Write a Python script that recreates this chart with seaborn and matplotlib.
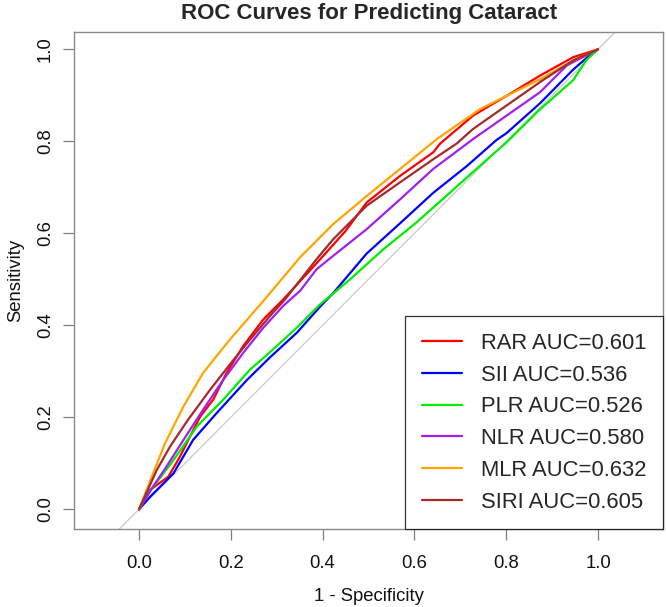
import matplotlib
matplotlib.use("Agg")
import matplotlib.pyplot as plt
from matplotlib import font_manager
import seaborn as sns
import pandas as pd

# ---------------- data ----------------
names = ["RAR", "SII", "PLR", "NLR", "MLR", "SIRI"]
aucs = ["0.601", "0.536", "0.526", "0.580", "0.632", "0.605"]
colors = ["#FF0000", "#0000FF", "#00EE00", "#A020F0", "#FFA500", "#A52A2A"]

rar_x = [0, 0.024, 0.064, 0.089, 0.111, 0.133, 0.162, 0.191, 0.227, 0.271, 0.314,
         0.387, 0.450, 0.496, 0.569, 0.641, 0.656, 0.728, 0.801, 0.874, 0.946, 1]
rar_y = [0, 0.042, 0.071, 0.114, 0.158, 0.201, 0.239, 0.297, 0.355, 0.413, 0.456,
         0.535, 0.605, 0.667, 0.725, 0.776, 0.795, 0.856, 0.899, 0.943, 0.983, 1]

sii_x = [0, 0.024, 0.075, 0.118, 0.169, 0.235, 0.285, 0.344, 0.394, 0.423, 0.496,
         0.569, 0.641, 0.714, 0.779, 0.801, 0.874, 0.946, 0.983, 1]
sii_y = [0, 0.027, 0.078, 0.151, 0.209, 0.281, 0.330, 0.384, 0.440, 0.470, 0.556,
         0.622, 0.688, 0.746, 0.803, 0.818, 0.883, 0.956, 0.988, 1]

plr_x = [0, 0.024, 0.071, 0.126, 0.184, 0.242, 0.278, 0.344, 0.394, 0.460, 0.532,
         0.605, 0.678, 0.743, 0.801, 0.874, 0.946, 0.975, 1]
plr_y = [0, 0.040, 0.101, 0.180, 0.239, 0.304, 0.335, 0.395, 0.445, 0.500, 0.565,
         0.624, 0.689, 0.747, 0.798, 0.870, 0.933, 0.977, 1]

nlr_x = [0, 0.031, 0.060, 0.097, 0.140, 0.184, 0.227, 0.271, 0.314, 0.351, 0.387,
         0.423, 0.496, 0.569, 0.641, 0.728, 0.801, 0.874, 0.932, 1]
nlr_y = [0, 0.050, 0.093, 0.151, 0.217, 0.282, 0.340, 0.395, 0.442, 0.475, 0.522,
         0.551, 0.609, 0.674, 0.740, 0.805, 0.856, 0.907, 0.965, 1]

mlr_x = [0, 0.031, 0.057, 0.097, 0.140, 0.198, 0.271, 0.351, 0.423, 0.496, 0.569,
         0.649, 0.743, 0.801, 0.874, 0.946, 1]
mlr_y = [0, 0.079, 0.144, 0.224, 0.297, 0.369, 0.453, 0.548, 0.620, 0.681, 0.740,
         0.805, 0.870, 0.899, 0.935, 0.976, 1]

siri_x = [0, 0.039, 0.068, 0.107, 0.155, 0.198, 0.242, 0.285, 0.318, 0.387, 0.423,
          0.496, 0.569, 0.641, 0.692, 0.728, 0.801, 0.874, 0.946, 1]
siri_y = [0, 0.086, 0.137, 0.195, 0.260, 0.315, 0.369, 0.420, 0.456, 0.544, 0.587,
          0.660, 0.711, 0.761, 0.795, 0.827, 0.878, 0.929, 0.976, 1]

xticks = [0.0, 0.2, 0.4, 0.6, 0.8, 1.0]
yticks = [0.0, 0.2, 0.4, 0.6, 0.8, 1.0]

curves_x = [rar_x, sii_x, plr_x, nlr_x, mlr_x, siri_x]
curves_y = [rar_y, sii_y, plr_y, nlr_y, mlr_y, siri_y]

labels = [f"{n} AUC={a}" for n, a in zip(names, aucs)]
frames = []
for lab, xs, ys in zip(labels, curves_x, curves_y):
    frames.append(pd.DataFrame({"fpr": xs, "tpr": ys, "model": lab}))
df = pd.concat(frames, ignore_index=True)

# ---------------- style ----------------
sns.set_style("white")
avail = {f.name for f in font_manager.fontManager.ttflist}
base_font = "Liberation Sans" if "Liberation Sans" in avail else "DejaVu Sans"
plt.rcParams["font.family"] = [base_font, "DejaVu Sans"]

fig = plt.figure(figsize=(6.66, 6.07), dpi=100)
ax = fig.add_axes([74 / 666, (607 - 529) / 607, 589 / 666, 497.3 / 607])

ax.axline((0, 0), (1, 1), color="#c8c8c8", lw=0.9, zorder=1)

sns.lineplot(data=df, x="fpr", y="tpr", hue="model", hue_order=labels,
             palette=dict(zip(labels, colors)), sort=False, estimator=None,
             lw=1.6, ax=ax, zorder=3)

ax.set_xlim(-0.1416, 1.1416)
ax.set_ylim(-0.0428, 1.0383)
ax.set_xticks(xticks)
ax.set_yticks(yticks)
ax.set_xticklabels([f"{t:.1f}" for t in xticks])
ax.set_yticklabels([f"{t:.1f}" for t in yticks], rotation=90, va="center")
ax.tick_params(axis="both", which="both", direction="out", length=8,
               width=0.9, color="#808080", labelsize=13.3, labelcolor="#111111",
               bottom=True, left=True)
ax.tick_params(axis="x", pad=10.5)
ax.tick_params(axis="y", pad=6.5)
for s in ax.spines.values():
    s.set_color("#8a8a8a")
    s.set_linewidth(1.0)

ax.set_xlabel("1 - Specificity", fontsize=13.3, color="#111111")
ax.set_ylabel("Sensitivity", fontsize=13.3, color="#111111")
ax.xaxis.set_label_coords(0.5, -0.118)
ax.yaxis.set_label_coords(-0.084, 0.5)

fig.text(369 / 666, 1 - 13.5 / 607, "ROC Curves for Predicting Cataract",
         ha="center", va="center", fontsize=16, fontweight="bold")

leg = ax.legend(loc="lower right", borderaxespad=0, frameon=True, fancybox=False,
                fontsize=15.8, handlelength=1.85, handletextpad=0.85,
                borderpad=0.75, labelspacing=0.49, title=None)
leg.get_frame().set_edgecolor("black")
leg.get_frame().set_linewidth(0.9)
for line in leg.get_lines():
    line.set_linewidth(1.6)

fig.savefig("out.png", dpi=100)
